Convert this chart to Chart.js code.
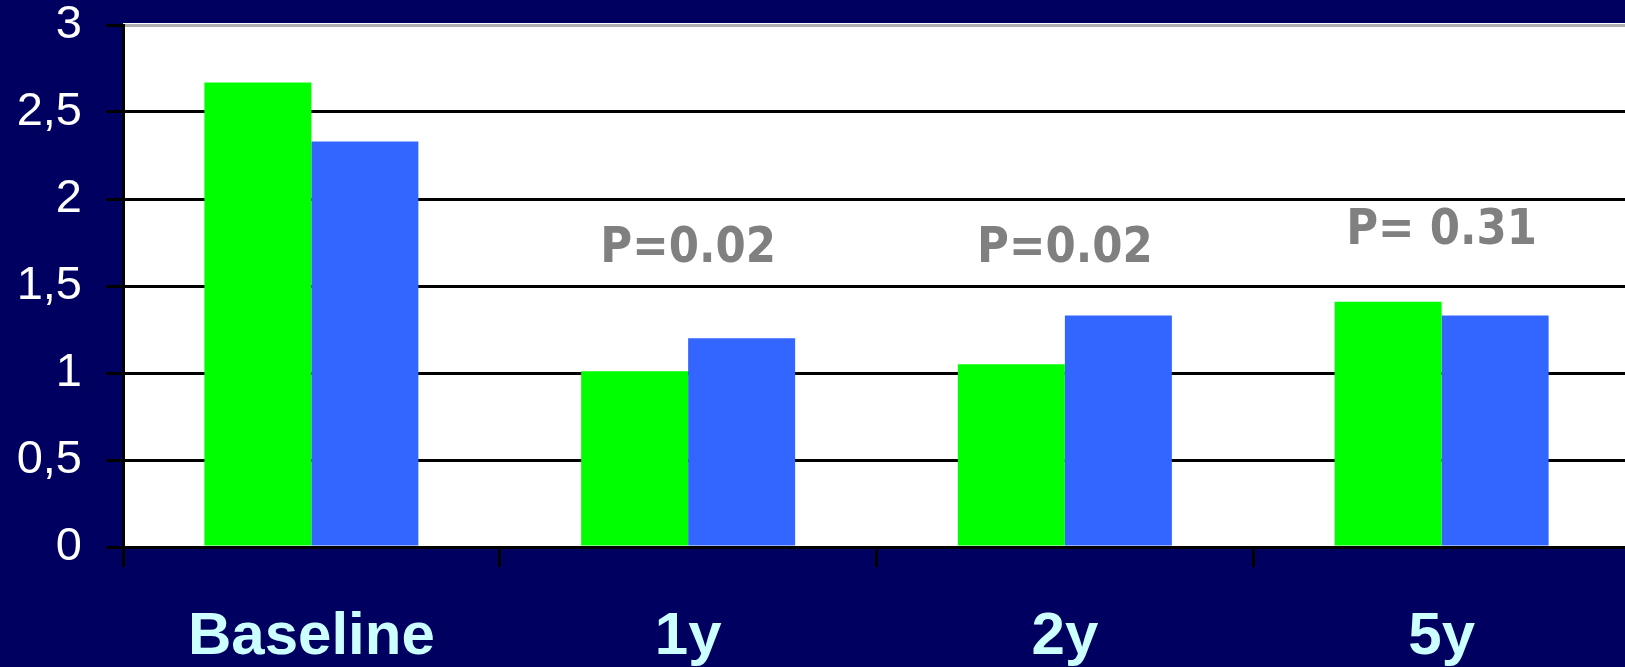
<!DOCTYPE html>
<html>
<head>
<meta charset="utf-8">
<script src="https://cdn.jsdelivr.net/npm/chart.js@4/dist/chart.umd.min.js"></script>
<style>
  html, body { margin: 0; padding: 0; background: #000060; overflow: hidden; }
  #wrap { width: 1625px; height: 667px; overflow: hidden; position: relative; }
  canvas { display: block; }
</style>
</head>
<body>
<div id="wrap"><canvas id="c" width="1632" height="667"></canvas></div>
<script>
const categories = ['Baseline', '1y', '2y', '5y'];
const seriesGreen = [2.67, 1.01, 1.05, 1.41];
const seriesBlue = [2.33, 1.20, 1.33, 1.33];
const yTickValues = [0, 0.5, 1, 1.5, 2, 2.5, 3];
const yTickLabels = ['0', '0,5', '1', '1,5', '2', '2,5', '3'];
const pLabels = ['', 'P=0.02', 'P=0.02', 'P= 0.31'];
const pLabelValues = [null, 1.64, 1.64, 1.74];

const bgPlugin = {
  id: 'bg',
  beforeDraw(chart) {
    const { ctx, chartArea: a } = chart;
    ctx.save();
    ctx.fillStyle = '#000060';
    ctx.fillRect(0, 0, chart.width, chart.height);
    ctx.fillStyle = '#ffffff';
    ctx.fillRect(a.left, a.top - 2, a.right - a.left, a.bottom - a.top + 2);
    ctx.restore();
  }
};

const pPlugin = {
  id: 'plabels',
  afterDatasetsDraw(chart) {
    const { ctx, scales } = chart;
    ctx.save();
    ctx.fillStyle = '#808080';
    ctx.font = 'bold 50px "DejaVu Sans", Verdana, sans-serif';
    ctx.textAlign = 'center';
    ctx.textBaseline = 'alphabetic';
    pLabels.forEach((t, i) => {
      if (!t) return;
      const x = scales.x.getPixelForValue(i);
      const y = scales.y.getPixelForValue(pLabelValues[i]);
      ctx.save();
      ctx.translate(x, y);
      ctx.scale(0.87, 1);
      ctx.fillText(t, 0, 0);
      ctx.restore();
    });
    ctx.restore();
  }
};

new Chart(document.getElementById('c'), {
  type: 'bar',
  data: {
    labels: categories,
    datasets: [
      { data: seriesGreen, backgroundColor: '#00ff00', borderWidth: 0, categoryPercentage: 0.568, barPercentage: 1.0 },
      { data: seriesBlue, backgroundColor: '#3366ff', borderWidth: 0, categoryPercentage: 0.568, barPercentage: 1.0 }
    ]
  },
  options: {
    responsive: false,
    animation: false,
    devicePixelRatio: 1,
    layout: { padding: { left: 0, right: 2, top: 25, bottom: 0 } },
    plugins: { legend: { display: false }, tooltip: { enabled: false }, title: { display: false } },
    scales: {
      x: {
        afterFit(scale) { scale.height = 120; scale.paddingLeft = 0; scale.paddingRight = 0; },
        grid: { display: true, drawOnChartArea: false, offset: true, color: '#000000', lineWidth: 3, tickLength: 20 },
        border: { display: true, color: '#000000', width: 3 },
        ticks: {
          color: '#ccffff',
          font: { family: '"Liberation Sans", Arial, sans-serif', size: 60, weight: 'bold', lineHeight: 1.0 },
          padding: 40,
          maxRotation: 0,
          autoSkip: false
        }
      },
      y: {
        min: 0, max: 3,
        afterBuildTicks(scale) { scale.ticks = yTickValues.map(v => ({ value: v })); },
        afterFit(scale) { scale.width = 123; scale.paddingTop = 0; scale.paddingBottom = 0; },
        grid: {
          color: ctx => (ctx.tick && ctx.tick.value === 3) ? '#b0b0b0' : '#000000',
          tickColor: '#000000',
          lineWidth: 3,
          tickLength: 17
        },
        border: { display: true, color: '#000000', width: 3 },
        ticks: {
          color: '#ffffff',
          font: { family: '"Liberation Sans", Arial, sans-serif', size: 47, lineHeight: 1.0 },
          padding: 24,
          callback: (v) => { const i = yTickValues.indexOf(v); return i >= 0 ? yTickLabels[i] : ''; }
        }
      }
    }
  },
  plugins: [bgPlugin, pPlugin]
});
</script>
</body>
</html>
